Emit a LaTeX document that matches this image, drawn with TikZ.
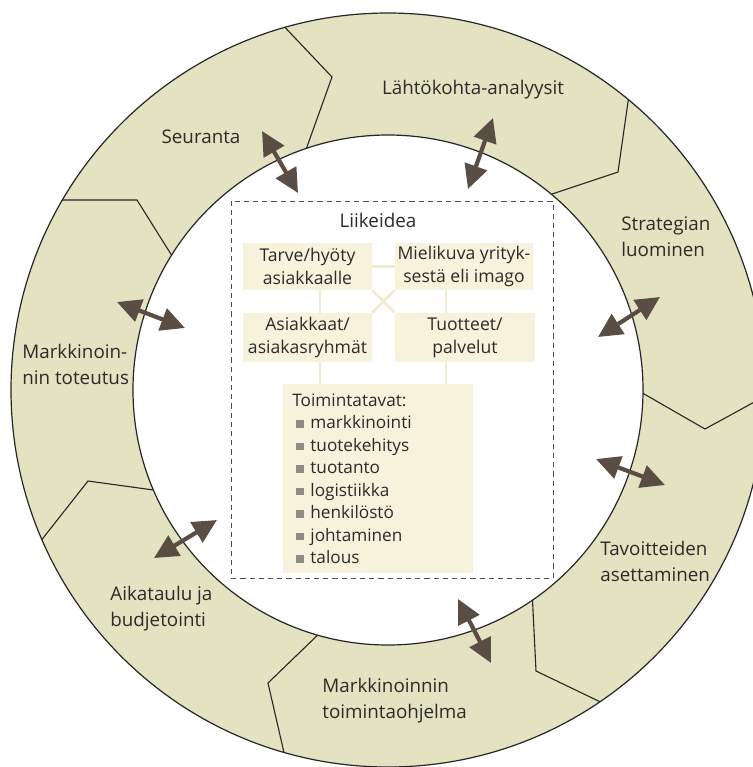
\documentclass[tikz,border=0pt]{standalone}
\usepackage{fontspec}
\setmainfont{Open Sans}
\usetikzlibrary{arrows.meta}
\definecolor{ringc}{HTML}{E3E2C1}
\definecolor{boxc}{HTML}{F6F2DB}
\definecolor{linkc}{HTML}{EFEBD2}
\definecolor{arrowc}{HTML}{5A4E44}
\definecolor{textc}{HTML}{2B2B2B}
\definecolor{bulc}{HTML}{8C8C80}
\newcommand\bul{\hspace{2pt}\textcolor{bulc}{\rule[0.6pt]{3.6pt}{3.6pt}}\hspace{3.4pt}}
\begin{document}
\begin{tikzpicture}[x=0.5pt,y=-0.5pt,
  segline/.style={draw=black!85, line width=0.55pt, line join=miter},
  rim/.style={draw=black!85, line width=0.6pt},
  ringlabel/.style={text=textc, inner sep=0pt, align=left, font=\fontsize{9.4}{13}\selectfont},
  ibox/.style={fill=boxc, text=textc, inner sep=0pt, align=center, font=\fontsize{8.8}{11.5}\selectfont},
  link/.style={draw=linkc, line width=1.3pt},
  dashrect/.style={draw=black!70, line width=0.5pt, dash pattern=on 2.6pt off 2pt},
  dblarrow/.style={draw=arrowc, line width=2.1pt,
    {Triangle[length=12pt,width=11.5pt,fill=arrowc]}-{Triangle[length=12pt,width=11.5pt,fill=arrowc]}}
]
\useasboundingbox (0,0) rectangle (753,767);
\clip (0,0) rectangle (753,767);
\coordinate (C) at (388,390);
% ring
\fill[ringc] (C) circle[radius=377];
\begin{scope}
  \clip (C) circle[radius=377];
  \draw[segline] (278,20) -- (332,77) -- (303,158);
  \draw[segline] (630,88) -- (618,172) -- (540,198);
  \draw[segline] (780,388) -- (705,429) -- (632,387);
  \draw[segline] (532,590) -- (536,671) -- (613,708);
  \draw[segline] (325,628) -- (268,683) -- (288,770);
  \draw[segline] (36,547) -- (88,481) -- (168,492);
  \draw[segline] (50,200) -- (137,200) -- (179,267);
\end{scope}
\fill[white] (C) circle[radius=255];
\draw[rim] (C) circle[radius=255];
\draw[rim] (C) circle[radius=377];

% ring labels
\node[ringlabel] (seur) at (201,137) {Seuranta};
\node[ringlabel] (lahto) at (473,90) {Lähtökohta-analyysit};
\node[ringlabel, anchor=west] (strat) at (621,237) {Strategian\\luominen};
\node[ringlabel, anchor=west] (tavo) at (600,561) {Tavoitteiden\\asettaminen};
\node[ringlabel, anchor=west] (ohj) at (322,701) {Markkinoinnin\\toimintaohjelma};
\node[ringlabel, anchor=west] (aika) at (110,609) {Aikataulu ja\\budjetointi};
\node[ringlabel, anchor=west] (tot) at (22,364) {Markkinoin-\\nin toteutus};

% Liikeidea frame
\draw[dashrect] (231,201) rectangle (553,578);
\node[ringlabel] (liike) at (378,220) {Liikeidea};

% inner boxes
\node[ibox, minimum width=64.5pt, minimum height=23.5pt] (tarve) at (307.5,266.5) {Tarve/hyöty\\asiakkaalle};
\node[ibox, minimum width=69pt, minimum height=23.5pt] (miel) at (464,266.5) {Mielikuva yrityk-\\sestä eli imago};
\node[ibox, minimum width=64.5pt, minimum height=24.5pt] (asi) at (307.5,337.5) {Asiakkaat/\\asiakasryhmät};
\node[ibox, minimum width=70pt, minimum height=24.5pt] (tuot) at (465,337.5) {Tuotteet/\\palvelut};
\node[ibox, anchor=north west, align=left, text width=86pt, inner xsep=4.5pt, inner ysep=0pt,
      minimum height=94.5pt, font=\fontsize{8.6}{11.25}\selectfont] (toim) at (283,384)
  {Toimintatavat:\\
   \bul markkinointi\\
   \bul tuotekehitys\\
   \bul tuotanto\\
   \bul logistiikka\\
   \bul henkilöstö\\
   \bul johtaminen\\
   \bul talous};

% pale links
\coordinate (v1) at (320,0);
\coordinate (v2) at (446,0);
\draw[link] (tarve) -- (miel);
\draw[link] (tarve.south east) -- (tuot.north west);
\draw[link] (miel.south west) -- (asi.north east);
\draw[link] (tarve.south -| v1) -- (asi.north -| v1);
\draw[link] (asi.south -| v1) -- (toim.north -| v1);
\draw[link] (miel.south -| v2) -- (tuot.north -| v2);
\draw[link] (tuot.south -| v2) -- (toim.north -| v2);

% arrows
\coordinate (a1s) at (262,131); \coordinate (a1e) at (298,193);
\coordinate (a2s) at (493,118); \coordinate (a2e) at (468,189);
\coordinate (a3s) at (660,297); \coordinate (a3e) at (598,337);
\coordinate (a4s) at (117,302); \coordinate (a4e) at (185,328);
\coordinate (a5s) at (596,459); \coordinate (a5e) at (665,485);
\coordinate (a6s) at (458,599); \coordinate (a6e) at (491,663);
\coordinate (a7s) at (217,520); \coordinate (a7e) at (154,558);
\draw[dblarrow] (a1s) -- (a1e);
\draw[dblarrow] (a2s) -- (a2e);
\draw[dblarrow] (a3s) -- (a3e);
\draw[dblarrow] (a4s) -- (a4e);
\draw[dblarrow] (a5s) -- (a5e);
\draw[dblarrow] (a6s) -- (a6e);
\draw[dblarrow] (a7s) -- (a7e);
\end{tikzpicture}
\end{document}
